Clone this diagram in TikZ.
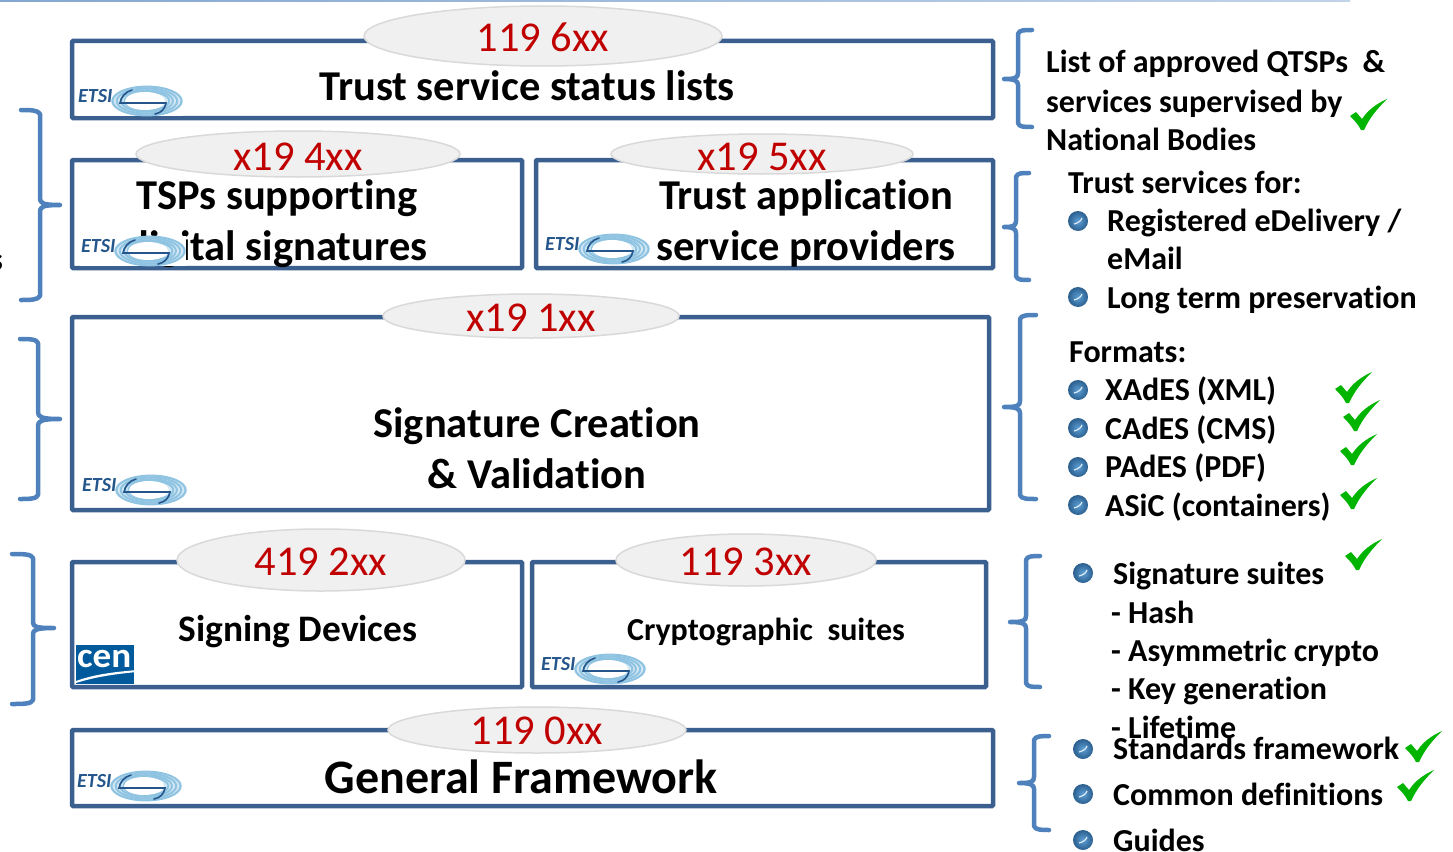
\documentclass[tikz,border=0pt]{standalone}
\usepackage{fontspec}
\setmainfont{Carlito}[Ligatures=NoCommon]
\usetikzlibrary{shapes.geometric,shadings}
\definecolor{boxblue}{HTML}{3B6090}
\definecolor{braceblue}{HTML}{4F81BD}
\definecolor{codered}{HTML}{C00000}
\definecolor{ovalfill}{HTML}{F0F0F0}
\definecolor{ovalline}{HTML}{D9D9D9}
\definecolor{etsiblue}{HTML}{24568C}
\definecolor{ringblue}{HTML}{8FC3E2}
\definecolor{ringpale}{HTML}{D3E8F4}
\definecolor{okgreen}{HTML}{00B400}
\definecolor{cenblue}{HTML}{005A9C}
\definecolor{balllight}{HTML}{5D9FD6}
\definecolor{balldark}{HTML}{2B5F8E}
\tikzset{
  boxn/.style={draw=boxblue,line width=4.5pt,fill=white,rounded corners=1pt,outer sep=0pt,inner sep=0pt,anchor=north west},
  oval/.style={ellipse,draw=ovalline,fill=ovalfill,line width=1.5pt,inner sep=0pt,outer sep=0pt},
  code/.style={text=codered,font=\fontsize{42.5}{42.5}\selectfont,anchor=base,yshift=-1pt},
  title/.style={font=\fontsize{42.5}{51}\selectfont\bfseries,align=center,anchor=base,yshift=-1pt},
  side/.style={font=\fontsize{32}{32}\selectfont\bfseries,anchor=base west,inner sep=0pt,yshift=-1pt},
  bracel/.style={draw=braceblue,line width=4.5pt,line cap=round,line join=round}
}
\newcommand{\etsilogo}[2]{%
  \begin{scope}[shift={(#1,#2)}]
    \fill[white] (0,0) rectangle (106,30);
    \fill[ringpale] (70,15) ellipse (36 and 15);
    \foreach \r in {0.96,0.84,0.72,0.62}{
      \draw[ringblue,line width=2pt] (70,15) ellipse ({36*\r} and {15*\r});
    }
    \fill[white] (68,15) ellipse (20 and 9);
    \draw[etsiblue,line width=1.6pt,line cap=round] (55,4) .. controls (48,6) and (44,11) .. (43,17) -- (89,17) .. controls (88,23) and (84,27) .. (78,28);
    \node[text=etsiblue,font=\fontsize{20}{20}\selectfont\bfseries\itshape,anchor=base west,inner sep=0pt] at (1,16) {ETSI};
  \end{scope}}
\newcommand{\dotb}[2]{%
  \shade[inner color=balllight,outer color=balldark] (#1,#2) circle (10);
  \draw[white!80!balllight,line width=1.2pt] (#1-4,#2+3) .. controls (#1,#2+2) and (#1+3,#2) .. (#1+4,#2-3);}
\newcommand{\chk}[2]{%
  \fill[okgreen,shift={(#1,#2)}] (0,14) -- (6,10) -- (12,17) .. controls (18,8) and (26,2) .. (37,-3)
    .. controls (28,6) and (20,15) .. (14,28) -- (11,28) .. controls (8,22) and (4,18) .. (0,14) -- cycle;}
\begin{document}
\begin{tikzpicture}[x=1pt,y=-1pt]
\useasboundingbox (0,0) rectangle (1453,851);
\clip (0,0) rectangle (1453,851);
\shade[left color=braceblue!70,right color=braceblue!35] (0,0) rectangle (1350,2);

% boxes
\node[boxn,minimum width=921pt,minimum height=77pt] (b1) at (72,41) {};
\node[boxn,minimum width=450pt,minimum height=108pt] (b2) at (72,160) {};
\node[boxn,minimum width=457pt,minimum height=108pt] (b3) at (536,160) {};
\node[boxn,minimum width=917pt,minimum height=193pt] (b4) at (72,317) {};
\node[boxn,minimum width=450pt,minimum height=125pt] (b5) at (72,562) {};
\node[boxn,minimum width=454pt,minimum height=125pt] (b6) at (532,562) {};
\node[boxn,minimum width=921pt,minimum height=76pt] (b7) at (72,730) {};

% ovals
\node[oval,minimum width=358pt,minimum height=60pt] (e1) at (543,36) {};
\node[oval,minimum width=324pt,minimum height=46pt] (e2) at (298,154) {};
\node[oval,minimum width=302pt,minimum height=40pt] (e3) at (762,154) {};
\node[oval,minimum width=296pt,minimum height=44pt] (e4) at (531,316) {};
\node[oval,minimum width=288pt,minimum height=62pt] (e5) at (321,560) {};
\node[oval,minimum width=260pt,minimum height=52pt] (e6) at (746,560) {};
\node[oval,minimum width=298pt,minimum height=46pt] (e7) at (537,730) {};

\node[code] (c1) at (543,51) {119 6xx};
\node[code] (c2) at (298,169) {x19 4xx};
\node[code] (c3) at (762,169) {x19 5xx};
\node[code] (c4) at (531,330) {x19 1xx};
\node[code] (c5) at (321,574) {419 2xx};
\node[code] (c6) at (746,574) {119 3xx};
\node[code] (c7) at (537,743) {119 0xx};

% titles
\node[title] (t1) at (527,99) {Trust service status lists};
\node[title] (t2a) at (277,208) {TSPs supporting};
\node[title] (t2b) at (277,259) {digital signatures};
\node[title] (t3a) at (806,208) {Trust application};
\node[title] (t3b) at (806,259) {service providers};
\node[title] (t4a) at (537,436) {Signature Creation};
\node[title] (t4b) at (537,487) {\&\ Validation};
\node[font=\fontsize{37.4}{37.4}\selectfont\bfseries,anchor=base,yshift=-1pt] (t5) at (298,640) {Signing Devices};
\node[font=\fontsize{32}{32}\selectfont\bfseries,anchor=base,yshift=-1pt] (t6) at (766,639) {Cryptographic\ \ suites};
\node[font=\fontsize{48}{48}\selectfont\bfseries,anchor=base,yshift=-1pt] (t7) at (521,792) {General Framework};

% logos
\etsilogo{77}{86}
\etsilogo{80}{236}
\etsilogo{544}{234}
\etsilogo{81}{475}
\etsilogo{540}{654}
\etsilogo{76}{771}

% CEN logo
\fill[cenblue] (76,645) rectangle (134,684);
\node[text=white,font=\fontsize{35}{35}\selectfont\bfseries,anchor=base west,inner sep=0pt,xscale=1.06] (cen) at (77,667) {cen};
\fill[white] (76,681) .. controls (95,674) and (115,672) .. (137,670) -- (137,672) .. controls (115,674) and (95,677) .. (76,683) -- cycle;

% braces, left side
\node[font=\fontsize{32}{32}\selectfont\bfseries,anchor=base east,inner sep=0pt] (cut) at (3,270) {s};
\draw[bracel] (21,110) .. controls (30,110) and (38,110) .. (40,114) -- (40,198) .. controls (40,203) and (42,205) .. (60,205) .. controls (42,205) and (40,207) .. (40,212) -- (40,296) .. controls (38,300) and (30,300) .. (21,300);
\draw[bracel] (20,339) .. controls (28,339) and (37,339) .. (38,343) -- (38,412) .. controls (38,417) and (41,419) .. (60,419) .. controls (41,419) and (38,421) .. (38,426) -- (38,495) .. controls (37,499) and (28,499) .. (20,499);
\draw[bracel] (12,554) .. controls (22,554) and (32,554) .. (33,558) -- (33,622) .. controls (33,627) and (36,628) .. (54,628) .. controls (36,628) and (33,630) .. (33,634) -- (33,700) .. controls (32,704) and (22,704) .. (12,704);

% braces, right side
\draw[bracel] (1032,30) .. controls (1024,30) and (1019,30) .. (1018,34) -- (1018,73) .. controls (1018,78) and (1015,79) .. (1004,79) .. controls (1015,79) and (1018,81) .. (1018,85) -- (1018,123) .. controls (1019,127) and (1024,127) .. (1032,127);
\draw[bracel] (1029,173) .. controls (1022,173) and (1017,173) .. (1016,177) -- (1016,221) .. controls (1016,226) and (1013,227) .. (1004,227) .. controls (1013,227) and (1016,229) .. (1016,233) -- (1016,276) .. controls (1017,280) and (1022,280) .. (1029,280);
\draw[bracel] (1036,315) .. controls (1028,315) and (1021,315) .. (1020,319) -- (1020,401) .. controls (1020,406) and (1017,407) .. (1004,407) .. controls (1017,407) and (1020,409) .. (1020,413) -- (1020,495) .. controls (1021,499) and (1028,499) .. (1036,499);
\draw[bracel] (1040,556) .. controls (1033,556) and (1027,556) .. (1026,560) -- (1026,616) .. controls (1026,621) and (1023,622) .. (1010,622) .. controls (1023,622) and (1026,624) .. (1026,628) -- (1026,683) .. controls (1027,687) and (1033,687) .. (1040,687);
\draw[bracel] (1049,736) .. controls (1042,736) and (1035,736) .. (1034,740) -- (1034,777) .. controls (1034,782) and (1031,783) .. (1019,783) .. controls (1031,783) and (1034,785) .. (1034,789) -- (1034,826) .. controls (1035,830) and (1042,830) .. (1049,830);

% side text
\node[side] (s1) at (1046,71) {List of approved QTSPs\ \ \&};
\node[side] (s2) at (1046,111) {services supervised by};
\node[side] (s3) at (1046,149) {National Bodies};
\node[side] (s4) at (1068,192) {Trust services for:};
\node[side] (s5) at (1107,230) {Registered eDelivery /};
\node[side] (s6) at (1107,268) {eMail};
\node[side] (s7) at (1107,307) {Long term preservation};
\node[side] (s8) at (1069,361) {Formats:};
\node[side] (s9) at (1105,399) {XAdES (XML)};
\node[side] (s10) at (1105,438) {CAdES (CMS)};
\node[side] (s11) at (1105,476) {PAdES (PDF)};
\node[side] (s12) at (1105,515) {ASiC (containers)};
\node[side] (s13) at (1113,583) {Signature suites};
\node[side] (s14) at (1111,622) {- Hash};
\node[side] (s15) at (1111,660) {- Asymmetric crypto};
\node[side] (s16) at (1111,698) {- Key generation};
\node[side] (s17) at (1111,737) {- Lifetime};
\node[side] (s18) at (1113,758) {Standards framework};
\node[side] (s19) at (1113,804) {Common definitions};
\node[side] (s20) at (1113,850) {Guides};

% bullets
\dotb{1078}{221}\dotb{1078}{297}
\dotb{1078}{390}\dotb{1078}{428}\dotb{1078}{467}\dotb{1078}{505}
\dotb{1083}{573}\dotb{1083}{749}\dotb{1083}{794}\dotb{1083}{840}

% checks
\chk{1350}{102}
\chk{1335}{375}\chk{1343}{403}\chk{1340}{437}\chk{1340}{481}
\chk{1345}{542}\chk{1405}{734}\chk{1397}{773}
\end{tikzpicture}
\end{document}
